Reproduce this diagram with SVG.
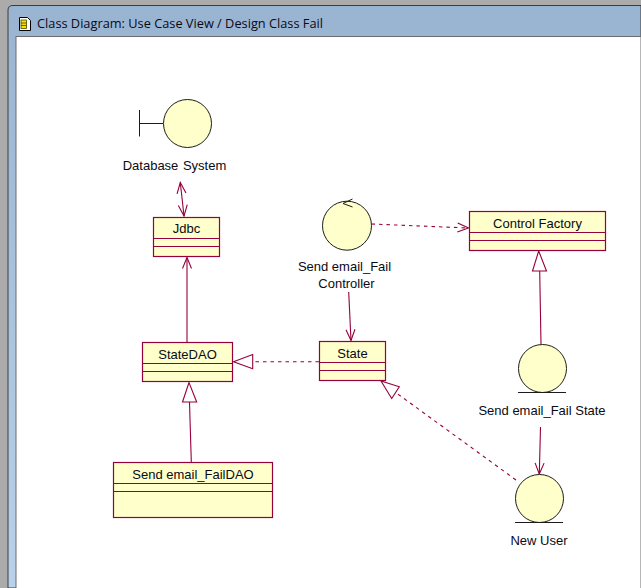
<svg xmlns="http://www.w3.org/2000/svg" width="641" height="588" viewBox="0 0 641 588">
<style>
text{font-family:"Liberation Sans",Arial,sans-serif;font-size:13px;fill:#0a0a14;text-anchor:middle}
.box{fill:#ffffcb;stroke:#96003c;stroke-width:1.2}
.sep{stroke:#96003c;stroke-width:1.2;fill:none}
.circ{fill:#ffffcb;stroke:#1c1c1c;stroke-width:1}
.ink{stroke:#1c1c1c;stroke-width:1;fill:none}
.c{stroke:#96003c;stroke-width:1.1;fill:none}
.d{stroke-dasharray:3.500 4}
.tri{fill:#fff;stroke:#96003c;stroke-width:1.1}
</style>
<defs>
<linearGradient id="bar" x1="0" y1="0" x2="0" y2="1"><stop offset="0" stop-color="#99b4d1"/><stop offset="1" stop-color="#b9d1ea"/></linearGradient>
<marker id="open" markerWidth="14" markerHeight="14" refX="12" refY="7" orient="auto" markerUnits="userSpaceOnUse"><path d="M1 2.500L12 7L1 11.500" fill="none" stroke="#96003c" stroke-width="1.1"/></marker>
<marker id="openS" markerWidth="14" markerHeight="14" refX="12" refY="7" orient="auto-start-reverse" markerUnits="userSpaceOnUse"><path d="M1 2.500L12 7L1 11.500" fill="none" stroke="#96003c" stroke-width="1.1"/></marker>
</defs>
<g id="window">
<rect width="641" height="588" fill="#ababab"/>
<path d="M8 588V10Q8 5.500 13 5.500H641V588Z" fill="url(#bar)" stroke="#3c3c3c" stroke-width="1"/>
<rect x="16" y="36.500" width="625" height="552" fill="#fff" stroke="#6d6d6d" stroke-width="1"/>
<g id="title-icon"><path d="M19.500 17.500H27.500L30.500 20.500V30.500H19.500Z" fill="#fff" stroke="#000"/><rect x="21" y="20" width="5.500" height="8.500" fill="#f5e100" stroke="#4a4a00" stroke-width="0.8"/><path d="M21 23H26.500M21 25.500H26.500" stroke="#4a4a00" stroke-width="0.8"/></g>
<text x="37" y="28" style="text-anchor:start;font-size:12px;font-family:'Open Sans','Noto Sans',sans-serif" textLength="286" lengthAdjust="spacingAndGlyphs">Class Diagram: Use Case View / Design Class Fail</text>
</g>
<g id="connectors">
<path class="c" d="M180.300 182.500L184 216" marker-start="url(#openS)" marker-end="url(#open)"/>
<path class="c" d="M187 342V257.500" marker-end="url(#open)"/>
<path class="c" d="M191.300 462L189.500 402"/>
<path class="tri" d="M189 382.500L182.500 402H196.700Z"/>
<path class="c d" d="M319 361.700H253"/>
<path class="tri" d="M233.500 361.700L252.700 354.500V368.700Z"/>
<path class="c d" d="M371.500 224L468.500 228" marker-end="url(#open)"/>
<path class="c" d="M348.700 292L351 340.500" marker-end="url(#open)"/>
<path class="c" d="M541 344L539.700 271"/>
<path class="tri" d="M538.700 251L532.500 271H546.500Z"/>
<path class="c" d="M540.500 427L539.300 474" marker-end="url(#open)"/>
<path class="c d" d="M516 480L395 392"/>
<path class="tri" d="M381 381L391.700 398.500L399.300 386.700Z"/>
</g>
<g id="database-system">
<path class="ink" d="M139.500 110V136.500M139.500 123.500H163"/>
<circle class="circ" cx="187.500" cy="123.500" r="24"/>
<text x="174.500" y="170" style="word-spacing:1px">Database System</text>
</g>
<g id="jdbc">
<rect class="box" x="153.500" y="217.500" width="66" height="39"/>
<path class="sep" d="M153.500 238.500H219.500M153.500 246.500H219.500"/>
<text x="186.500" y="233">Jdbc</text>
</g>
<g id="controller">
<circle class="circ" cx="347" cy="225.700" r="24.500"/>
<path class="ink" d="M343 203.500L352.500 199M343 203.500L352.500 207"/>
<text x="344.500" y="271">Send email_Fail</text>
<text x="346.500" y="288">Controller</text>
</g>
<g id="control-factory">
<rect class="box" x="469.500" y="211.500" width="136" height="39"/>
<path class="sep" d="M469.500 232.500H605.500M469.500 240.500H605.500"/>
<text x="537.500" y="228">Control Factory</text>
</g>
<g id="statedao">
<rect class="box" x="142.500" y="342.500" width="90" height="39"/>
<path class="sep" d="M142.500 363.500H232.500M142.500 371.500H232.500"/>
<text x="187.500" y="359">StateDAO</text>
</g>
<g id="state">
<rect class="box" x="319.500" y="341.500" width="66" height="39"/>
<path class="sep" d="M319.500 362.500H385.500M319.500 370.500H385.500"/>
<text x="352.500" y="358">State</text>
</g>
<g id="send-email-fail-dao">
<rect class="box" x="113.500" y="462.500" width="159" height="55"/>
<path class="sep" d="M113.500 483.500H272.500M113.500 491.500H272.500"/>
<text x="193" y="479">Send email_FailDAO</text>
</g>
<g id="send-email-fail-state">
<circle class="circ" cx="542.500" cy="368.500" r="24"/>
<path class="ink" d="M518 392.500H566"/>
<text x="542" y="415">Send email_Fail State</text>
</g>
<g id="new-user">
<circle class="circ" cx="539.500" cy="498.500" r="24"/>
<path class="ink" d="M515 522.500H563"/>
<text x="539" y="545">New User</text>
</g>
</svg>
